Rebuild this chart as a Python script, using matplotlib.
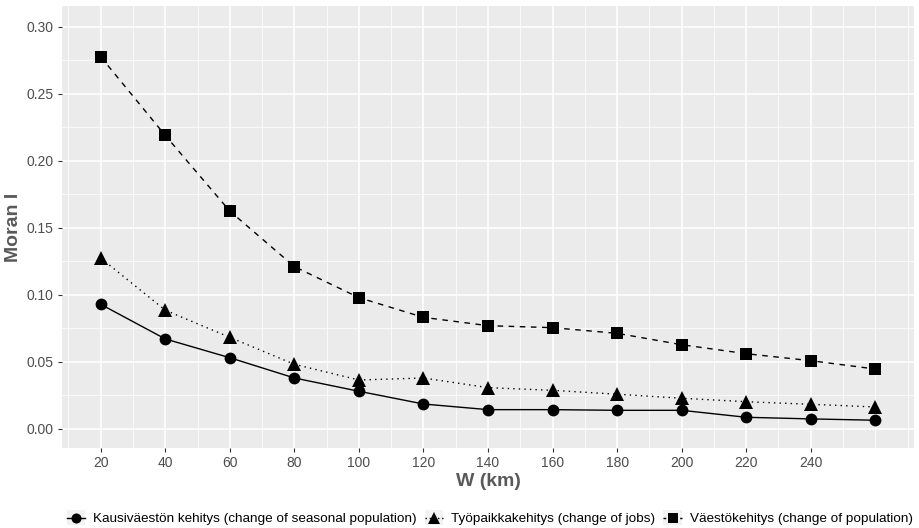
import matplotlib
matplotlib.use("Agg")
import matplotlib.pyplot as plt
from matplotlib.ticker import MultipleLocator, FixedLocator
from matplotlib.lines import Line2D
from matplotlib.patches import Rectangle
from matplotlib.legend_handler import HandlerLine2D

plt.rcParams['font.family'] = ['Liberation Sans', 'DejaVu Sans']

w_km = [20, 40, 60, 80, 100, 120, 140, 160, 180, 200, 220, 240, 260]
seasonal = [0.0929, 0.0671, 0.0531, 0.0380, 0.0281, 0.0186, 0.0144, 0.0144, 0.0139, 0.0139, 0.0087, 0.0075, 0.0065]
jobs = [0.1274, 0.0885, 0.0683, 0.0482, 0.0365, 0.0380, 0.0308, 0.0288, 0.0259, 0.0229, 0.0203, 0.0184, 0.0164]
population = [0.2774, 0.2188, 0.1624, 0.1210, 0.0979, 0.0832, 0.0770, 0.0755, 0.0713, 0.0628, 0.0561, 0.0509, 0.0447]

labels = ["Kausiväestön kehitys (change of seasonal population)",
          "Työpaikkakehitys (change of jobs)",
          "Väestökehitys (change of population)"]
x_ticks = [20, 40, 60, 80, 100, 120, 140, 160, 180, 200, 220, 240]
y_ticks = [0.00, 0.05, 0.10, 0.15, 0.20, 0.25, 0.30]


class KeyHandler(HandlerLine2D):
    def create_artists(self, legend, orig_handle, xdescent, ydescent,
                       width, height, fontsize, trans):
        bg = Rectangle((-xdescent, -ydescent - 0.3 * height), width, height * 1.6,
                       facecolor='#F2F2F2', edgecolor='none', transform=trans)
        arts = super().create_artists(legend, orig_handle, xdescent, ydescent,
                                      width, height, fontsize, trans)
        return [bg] + list(arts)


fig = plt.figure(figsize=(9.19, 5.28), dpi=100)
ax = fig.add_axes([0.0675, 0.1515, 0.9271, 0.8371])
ax.set_facecolor('#EBEBEB')
for s in ax.spines.values():
    s.set_visible(False)

lw = 1.0
series = [
    (seasonal, 'o', None, 8.5),
    (jobs, '^', (1, 3), 10.0),
    (population, 's', (4, 4), 8.5),
]
handles = []
for (vals, mk, dash, ms), lab in zip(series, labels):
    ln, = ax.plot(w_km, vals, color='black', lw=lw, marker=mk, markersize=ms,
                  markeredgewidth=0, markerfacecolor='black', zorder=3)
    if dash is not None:
        ln.set_dashes(dash)
    h = Line2D([0], [0], color='black', lw=lw, marker=mk, markersize=ms * 0.85,
               markeredgewidth=0)
    if dash is not None:
        h.set_dashes((2, 2) if mk == 's' else (1, 2))
    handles.append(h)

ax.set_xlim(8, 272)
ax.set_ylim(-0.0142, 0.3153)
ax.xaxis.set_major_locator(FixedLocator(x_ticks))
ax.xaxis.set_minor_locator(MultipleLocator(10))
ax.yaxis.set_major_locator(FixedLocator(y_ticks))
ax.yaxis.set_minor_locator(MultipleLocator(0.025))
ax.set_xticklabels([str(t) for t in x_ticks])
ax.set_yticklabels([f"{t:.2f}" for t in y_ticks])

ax.grid(which='major', color='white', lw=1.1, zorder=0)
ax.grid(which='minor', color='white', lw=0.55, zorder=0)
ax.set_axisbelow(True)
ax.tick_params(which='major', length=3, width=0.8, color='#333333',
               labelsize=10, labelcolor='#4D4D4D', pad=3)
ax.tick_params(which='minor', length=0)

ax.set_xlabel("W (km)", fontsize=14, fontweight='bold', color='#595959', labelpad=2)
ax.set_ylabel("Moran I", fontsize=14, fontweight='bold', color='#595959', labelpad=3)

leg = fig.legend(handles=handles, labels=labels, loc='center', ncol=3,
                 bbox_to_anchor=(0.533, 0.017), frameon=False, fontsize=9.7,
                 handlelength=1.35, handletextpad=0.6, columnspacing=0.6,
                 borderaxespad=0,
                 handler_map={Line2D: KeyHandler()})

fig.savefig("out.png", dpi=100)
